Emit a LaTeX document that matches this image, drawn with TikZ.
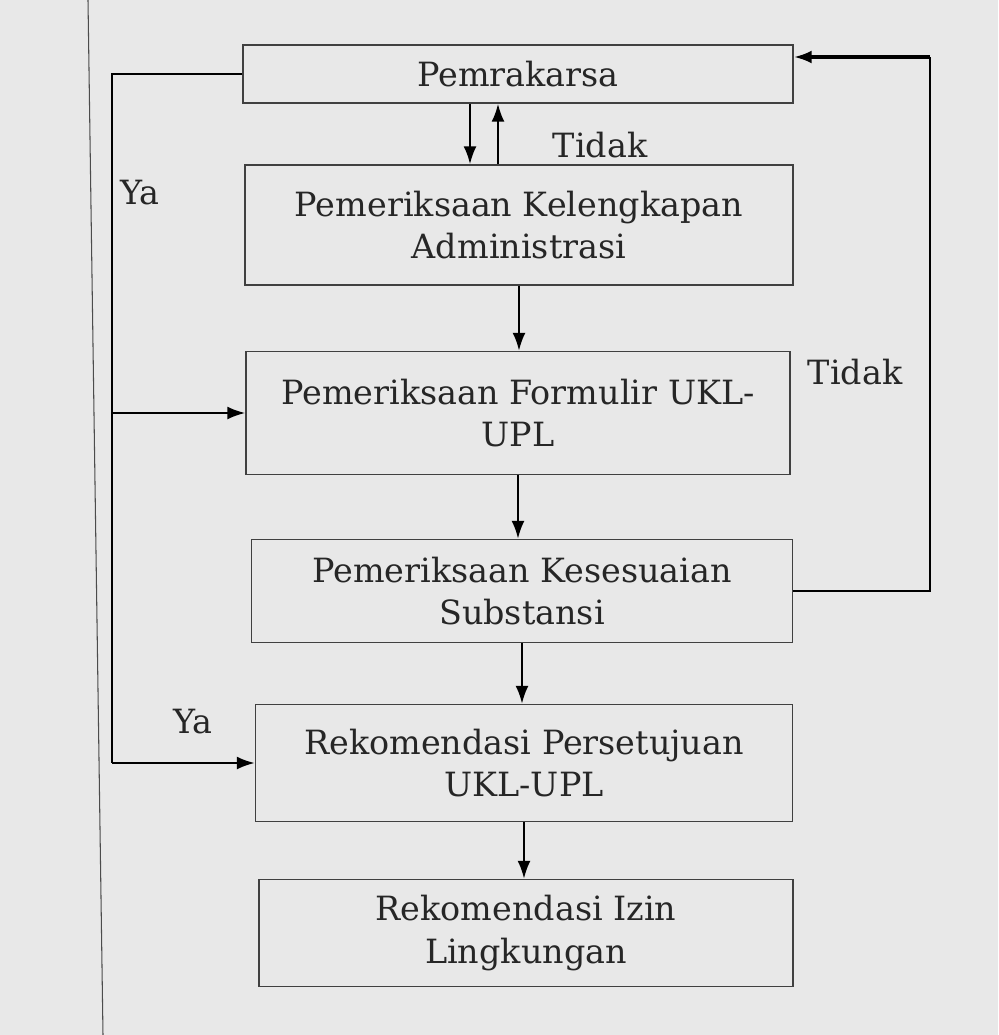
\documentclass[tikz,border=0pt]{standalone}
\usepackage{fontspec}
\setmainfont{DejaVu Serif}
\usetikzlibrary{positioning, arrows.meta}

\tikzset{
  box/.style={draw=black!75, line width=0.8pt, align=center, inner sep=2pt},
  flow/.style={->, line width=1.3pt},
  loop/.style={line width=0.6pt},
}

\begin{document}
\begin{tikzpicture}[>={Latex[length=3.6mm,width=2.6mm]}, font=\fontsize{19}{24}\selectfont, text=black!85]
  \fill[black!9] (0,0) rectangle (19.96,-20.7);
  \useasboundingbox (0,0) rectangle (19.96,-20.7);
  \draw[black!70, line width=0.6pt] (1.76,0) -- (2.06,-20.7);

  \node[box, minimum width=11cm, minimum height=1.16cm] (prm) at (10.36,-1.48) {Pemrakarsa};
  \node[box, minimum width=10.96cm, minimum height=2.4cm] (adm) at (10.38,-4.5) {Pemeriksaan Kelengkapan\\Administrasi};
  \node[box, minimum width=10.88cm, minimum height=2.46cm] (frm) at (10.36,-8.26) {Pemeriksaan Formulir UKL-\\UPL};
  \node[box, minimum width=10.82cm, minimum height=2.06cm] (sub) at (10.44,-11.82) {Pemeriksaan Kesesuaian\\Substansi};
  \node[box, minimum width=10.74cm, minimum height=2.34cm] (rek) at (10.48,-15.26) {Rekomendasi Persetujuan\\UKL-UPL};
  \node[box, minimum width=10.68cm, minimum height=2.14cm] (izn) at (10.52,-18.66) {Rekomendasi Izin\\Lingkungan};

  \node (td1) at (12,-2.9) {Tidak};
  \node (td2) at (17.1,-7.44) {Tidak};
  \node (ya1) at (2.8,-3.86) {Ya};
  \node (ya2) at (3.86,-14.44) {Ya};

  \coordinate (lft) at (2.24,0);
  \coordinate (rgt) at (18.6,0);

  \draw[flow] ([xshift=-0.96cm]prm.south) -- ([xshift=-0.96cm]prm.south |- adm.north);
  \draw[flow] ([xshift=-0.4cm]prm.south |- adm.north) -- ([xshift=-0.4cm]prm.south);
  \draw[flow] (adm.south) -- (adm.south |- frm.north);
  \draw[flow] (frm.south) -- (frm.south |- sub.north);
  \draw[flow] (sub.south) -- (sub.south |- rek.north);
  \draw[flow] (rek.south) -- (rek.south |- izn.north);

  \draw[loop] (sub.east) -- (sub.east -| rgt) -- ([yshift=0.34cm]prm.east -| rgt);
  \draw[flow, line width=2pt] ([yshift=0.34cm]prm.east -| rgt) -- ([yshift=0.34cm]prm.east);

  \draw[loop] (prm.west) -- (prm.west -| lft) -- (lft |- rek.west);
  \draw[flow] (lft |- rek.west) -- (rek.west);
  \draw[flow] (lft |- frm.west) -- (frm.west);
\end{tikzpicture}
\end{document}
